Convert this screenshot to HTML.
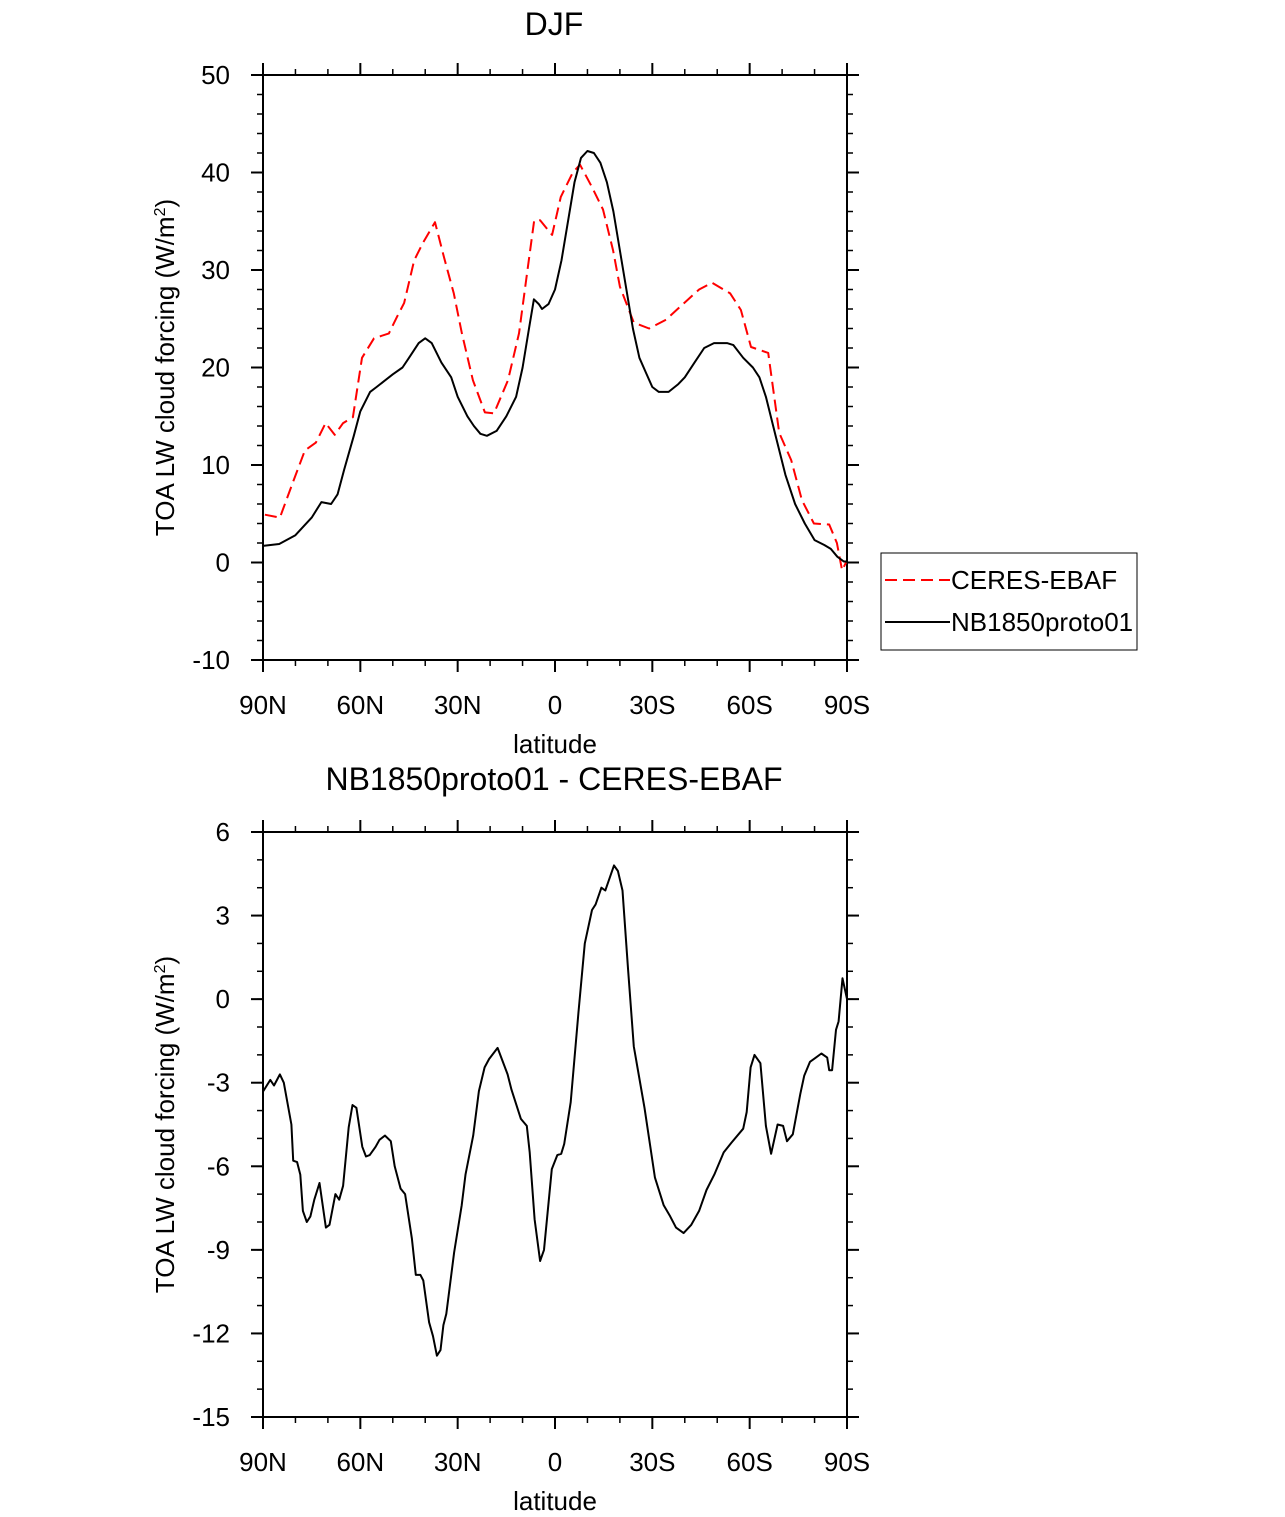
<!DOCTYPE html>
<html><head><meta charset="utf-8"><style>
body{margin:0;background:#fff;}
svg{display:block;font-family:"Liberation Sans",sans-serif;}
</style></head><body>
<svg id="c" width="1285" height="1517" xmlns="http://www.w3.org/2000/svg"></svg>
<script>
const latTicks=[90,60,30,0,-30,-60,-90];
const latTickLabels=["90N","60N","30N","0","30S","60S","90S"];
const topYTicks=[50,40,30,20,10,0,-10];
const botYTicks=[6,3,0,-3,-6,-9,-12,-15];
const modelLat=[90,85,80,75,72,69,67,65,62,60,57,55,50,47,45,42,40,38,35,32,30,27,25,23,21,18,15,12,10,8,6.5,5,4,2,0,-2,-4,-6,-8,-10,-12,-14,-16,-18,-20,-22,-24,-26,-28,-30,-32,-35,-38,-40,-43,-46,-49,-53,-55,-58,-61,-63,-65,-68,-71,-74,-77,-80,-83,-85,-87,-89,-90];
const modelVal=[1.7,1.9,2.8,4.6,6.2,6.0,7,9.5,13,15.5,17.5,18,19.3,20,21,22.5,23,22.5,20.5,19,17,15,14,13.2,13,13.5,15,17,20,24,27,26.5,26,26.5,28,31,35,39,41.5,42.2,42,41,39,36,32,28,24,21,19.5,18,17.5,17.5,18.3,19,20.5,22,22.5,22.5,22.3,21,20,19,17,13,9,6,4,2.3,1.8,1.4,0.6,0.1,0.1];
const obsLat=[89.4,84.8,80.8,77.1,73.7,70.7,67.9,65.3,62.3,59.5,55.8,51.2,48.7,46.5,43.4,40.7,37,34.2,31.2,28.7,25.3,21.6,18.8,14.5,11.1,8.6,6.4,4.6,0.9,-1.8,-5.5,-7.7,-11.4,-14.8,-17.9,-20,-24.3,-29,-34.2,-39.8,-44.4,-48.4,-54,-57.3,-60.4,-65.7,-69.1,-72.8,-76.1,-79.8,-84.5,-86.9,-88.5,-89.7];
const obsVal=[4.9,4.6,8.2,11.5,12.3,14.3,13.1,14.3,14.9,21,23,23.5,25.2,26.6,31,32.8,34.9,31.3,27.6,23.5,18.7,15.4,15.3,18.7,23.5,29.7,35.1,35.1,33.6,37.5,40,40.8,38.5,36.2,32,28.3,24.6,24,24.9,26.6,28,28.7,27.6,25.9,22.1,21.5,13.3,10.5,6.4,4,3.9,2,-0.8,0];
const diffLat=[89.9,87.75,86.6,84.8,83.6,81.25,80.7,79.5,78.5,77.7,76.5,75.4,74.2,72.6,70.6,69.5,67.7,66.5,65.3,63.6,62.4,61.2,59.4,58.25,57.1,55.3,54.1,52.4,50.6,49.4,47.6,46.2,44.1,42.9,41.5,40.6,38.8,37.6,36.4,35.3,34.4,33.5,31.1,28.75,27.6,25.2,23.45,21.7,20.3,17.7,14.6,13.4,10.5,8.7,7.8,6.3,4.6,3.4,1.0,-0.7,-1.9,-2.85,-4.85,-7.2,-9.2,-11.4,-12.5,-14.3,-15.5,-18.2,-19.4,-20.8,-22.5,-24.3,-27.6,-30.8,-33.5,-35.5,-37.3,-39.65,-42,-44.4,-46.7,-49.1,-52,-54.4,-58,-59.1,-60.3,-61.5,-63.3,-65,-66.6,-68.6,-70.3,-71.5,-73.3,-75.6,-76.8,-78.6,-80.4,-82.1,-83.9,-84.5,-85.4,-86.6,-87.4,-88.6,-90];
const diffVal=[-3.3,-2.9,-3.1,-2.7,-3.0,-4.5,-5.8,-5.85,-6.3,-7.6,-8.0,-7.8,-7.2,-6.6,-8.2,-8.1,-7.0,-7.2,-6.7,-4.6,-3.8,-3.9,-5.3,-5.65,-5.6,-5.3,-5.05,-4.9,-5.1,-6.0,-6.8,-7.0,-8.6,-9.9,-9.9,-10.1,-11.6,-12.1,-12.8,-12.6,-11.7,-11.3,-9.1,-7.4,-6.3,-4.9,-3.3,-2.45,-2.15,-1.75,-2.7,-3.25,-4.3,-4.55,-5.5,-7.9,-9.4,-9.0,-6.1,-5.6,-5.55,-5.2,-3.7,-0.5,2.0,3.2,3.4,4.0,3.9,4.8,4.6,3.9,1.1,-1.7,-3.9,-6.4,-7.4,-7.8,-8.2,-8.4,-8.1,-7.6,-6.85,-6.3,-5.5,-5.15,-4.65,-4.05,-2.45,-2.0,-2.3,-4.55,-5.55,-4.5,-4.55,-5.1,-4.85,-3.4,-2.75,-2.25,-2.1,-1.95,-2.1,-2.55,-2.55,-1.1,-0.8,0.75,0];

const NS="http://www.w3.org/2000/svg";
const svg=document.getElementById('c');
function el(tag,attrs,parent,text){const e=document.createElementNS(NS,tag);for(const k in attrs)e.setAttribute(k,attrs[k]);if(text!==undefined)e.textContent=text;(parent||svg).appendChild(e);return e;}
const X0=263,X1=847;
function xs(lat){return X0+(90-lat)/180*(X1-X0);}

function panel(name,top,bot,ymax,ymin,yTicks,minorStep,title,titleY){
  const g=el('g',{});
  
  
  const ys=v=>top+(ymax-v)/(ymax-ymin)*(bot-top);
  const t=el('text',{x:554,y:titleY,'text-anchor':'middle','font-size':'32'},g,title);
  
  
  for(let v=ymin;v<=ymax+1e-9;v+=minorStep){
    const y=ys(v);
    el('line',{x1:X0-6,x2:X0,y1:y,y2:y,stroke:'#000','stroke-width':1.5},g);
    el('line',{x1:X1,x2:X1+6,y1:y,y2:y,stroke:'#000','stroke-width':1.5},g);
  }
  yTicks.forEach(v=>{
    const y=ys(v);
    el('line',{x1:X0-12,x2:X0,y1:y,y2:y,stroke:'#000','stroke-width':2},g);
    el('line',{x1:X1,x2:X1+12,y1:y,y2:y,stroke:'#000','stroke-width':2},g);
    const tl=el('text',{x:X0-33,y:y+9,'text-anchor':'end','font-size':'26'},g,String(v));
    
    
  });
  for(let lat=-80;lat<=80;lat+=10){
    if(lat%30===0)continue;
    const x=xs(lat);
    el('line',{x1:x,x2:x,y1:bot,y2:bot+6,stroke:'#000','stroke-width':1.5},g);
    el('line',{x1:x,x2:x,y1:top-6,y2:top,stroke:'#000','stroke-width':1.5},g);
  }
  latTicks.forEach((lat,i)=>{
    const x=xs(lat);
    el('line',{x1:x,x2:x,y1:bot,y2:bot+12,stroke:'#000','stroke-width':2},g);
    el('line',{x1:x,x2:x,y1:top-12,y2:top,stroke:'#000','stroke-width':2},g);
    const tl=el('text',{x:x,y:bot+54,'text-anchor':'middle','font-size':'26'},g,latTickLabels[i]);
    
    
  });
  const xl=el('text',{x:555,y:bot+93,'text-anchor':'middle','font-size':'26'},g,'latitude');
  
  
  const cy=(top+bot)/2;
  const yl=el('text',{x:0,y:0,transform:`translate(174,${cy}) rotate(-90)`,'text-anchor':'middle','font-size':'26'},g);
  
  
  yl.appendChild(document.createTextNode('TOA LW cloud forcing (W/m'));
  el('tspan',{'font-size':'16',dy:'-9'},yl,'2');
  el('tspan',{dy:'9'},yl,')');
  const fr=el('rect',{x:X0,y:top,width:X1-X0,height:bot-top,fill:'none',stroke:'#000','stroke-width':2},g);
  
  
  return {g,ys};
}
function line(p,lats,vals,attrs,nm){
  const d=lats.map((l,i)=>(i?'L':'M')+xs(l).toFixed(1)+','+p.ys(vals[i]).toFixed(1)).join('');
  const pa=el('path',Object.assign({d,fill:'none','stroke-linejoin':'round'},attrs),p.g);
  
  
}
const p1=panel('top-panel',75,660,50,-10,topYTicks,2,'DJF',35);
line(p1,obsLat,obsVal,{stroke:'#ff0000','stroke-width':2,'stroke-dasharray':'12,6'},'ceres-ebaf-line');
line(p1,modelLat,modelVal,{stroke:'#000','stroke-width':2},'nb1850proto01-line');
const p2=panel('bottom-panel',832,1417,6,-15,botYTicks,1,'NB1850proto01 - CERES-EBAF',790);
line(p2,diffLat,diffVal,{stroke:'#000','stroke-width':2},'difference-line');
const lg=el('g',{});


el('rect',{x:881,y:553,width:256,height:97,fill:'#fff',stroke:'#000','stroke-width':1},lg);
el('line',{x1:885,x2:950,y1:580,y2:580,stroke:'#ff0000','stroke-width':2,'stroke-dasharray':'12,6'},lg);
const le1=el('text',{x:951,y:589,'font-size':'26'},lg,'CERES-EBAF');


el('line',{x1:885,x2:950,y1:622,y2:622,stroke:'#000','stroke-width':2},lg);
const le2=el('text',{x:951,y:631,'font-size':'26'},lg,'NB1850proto01');


</script>
</body></html>
